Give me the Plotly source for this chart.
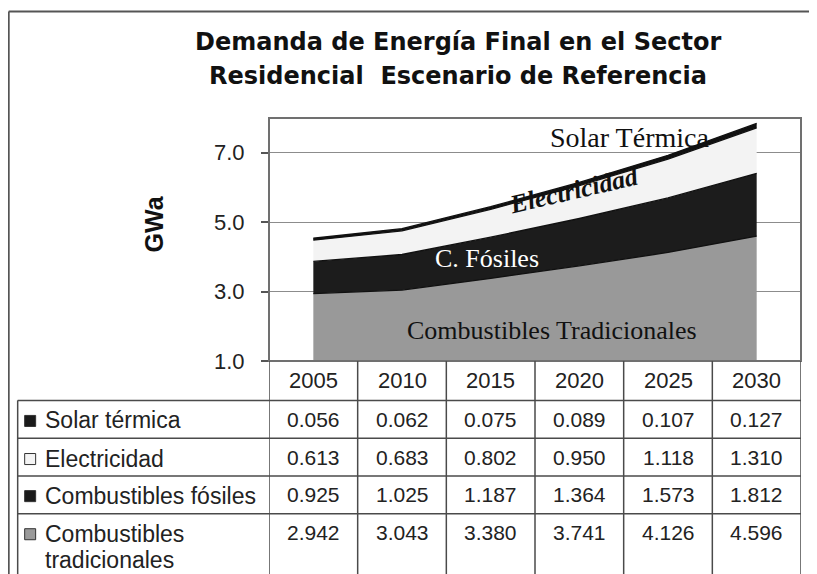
import plotly.graph_objects as go

# ---------------- data ----------------
years = ["2005", "2010", "2015", "2020", "2025", "2030"]
tradicionales = [2.942, 3.043, 3.380, 3.741, 4.126, 4.596]
fosiles = [0.925, 1.025, 1.187, 1.364, 1.573, 1.812]
electricidad = [0.613, 0.683, 0.802, 0.950, 1.118, 1.310]
solar = [0.056, 0.062, 0.075, 0.089, 0.107, 0.127]

row_labels = ["Solar térmica", "Electricidad", "Combustibles fósiles", "Combustibles\ntradicionales"]
row_values = [solar, electricidad, fosiles, tradicionales]
row_swatch = ["#1a1a1a", "#f4f4f4", "#1a1a1a", "#9a9a9a"]

series_names = ["Combustibles tradicionales", "Combustibles fósiles", "Electricidad", "Solar térmica"]
series_values = [tradicionales, fosiles, electricidad, solar]
series_fill = ["#999999", "#1c1c1c", "#f3f3f3", "#111111"]

title_lines = ["Demanda de Energía Final en el Sector", "Residencial  Escenario de Referencia"]
y_ticks = [1, 3, 5, 7]

# ---------------- geometry helpers (screen pixels; page body has an 8px margin) ----------------
OFF = 8
W, H = 817 - OFF, 574 - OFF
PLOT_L, PLOT_R, PLOT_T, PLOT_B = 268.7, 801.5, 118.3, 360.7   # screen px
L = PLOT_L - OFF
T = PLOT_T - OFF
R = W - (PLOT_R - OFF)
B = H - (PLOT_B - OFF)
pw = W - L - R
ph = H - T - B


def px(x):
    return (x - PLOT_L) / pw


def py(y):
    return (PLOT_B - y) / ph


SANS = "Liberation Sans, Arial, sans-serif"
TITLE_FONT = "DejaVu Sans, Liberation Sans, sans-serif"
SERIF = "Liberation Serif, Times New Roman, serif"

fig = go.Figure()
for name, vals, col in zip(series_names, series_values, series_fill):
    fig.add_trace(go.Scatter(
        x=years, y=vals, name=name, stackgroup="one", mode="lines",
        line=dict(color="#111111", width=1.3), fillcolor=col,
        showlegend=False, hoverinfo="x+y+name"))

shapes = []
line_col = "#4a4a4a"
# plot frame
shapes.append(dict(type="rect", xref="paper", yref="paper", x0=0, x1=1, y0=0, y1=1,
                   line=dict(color="#707070", width=2), layer="above"))
# outer chart border
shapes.append(dict(type="line", xref="paper", yref="paper", x0=px(8), x1=px(8), y0=py(12), y1=py(600),
                   line=dict(color="#555555", width=2)))
shapes.append(dict(type="line", xref="paper", yref="paper", x0=px(8), x1=px(830), y0=py(12), y1=py(12),
                   line=dict(color="#555555", width=2)))

# table geometry (screen pixels)
tab_left = 17
row_tops = [400, 437.7, 475.4, 513.1]
tab_bottom = 600

for yv in row_tops:
    shapes.append(dict(type="line", xref="paper", yref="paper", x0=px(tab_left), x1=1,
                       y0=py(yv), y1=py(yv), line=dict(color=line_col, width=1.5)))
shapes.append(dict(type="line", xref="paper", yref="paper", x0=px(tab_left), x1=px(tab_left),
                   y0=py(row_tops[0]), y1=py(tab_bottom), line=dict(color=line_col, width=1.5)))
for i in range(len(years) + 1):
    shapes.append(dict(type="line", xref="x", yref="paper", x0=i - 0.5, x1=i - 0.5,
                       y0=0, y1=py(tab_bottom), line=dict(color=line_col, width=1.5)))

annotations = []
# title
for k, t in enumerate(title_lines):
    annotations.append(dict(text="<b>%s</b>" % t, xref="paper", yref="paper", x=px(458), y=py(42 + 34 * k),
                            showarrow=False, font=dict(family=TITLE_FONT, size=24, color="#111111"),
                            xanchor="center", yanchor="middle"))
# y title
annotations.append(dict(text="<b>GWa</b>", xref="paper", yref="paper", x=px(153), y=py(224),
                        showarrow=False, textangle=-90, font=dict(family=SANS, size=25, color="#111111"),
                        xanchor="center", yanchor="middle"))
# header years
for i, yr in enumerate(years):
    annotations.append(dict(text=yr, xref="x", yref="paper", x=i, y=py(380), showarrow=False,
                            font=dict(family=SANS, size=22, color="#222222"),
                            xanchor="center", yanchor="middle"))
# rows
row_centers = [419, 457, 494, 532]
for r, (lab, vals, sw) in enumerate(zip(row_labels, row_values, row_swatch)):
    cy = row_centers[r]
    for k, ln in enumerate(lab.split("\n")):
        annotations.append(dict(text=ln, xref="paper", yref="paper", x=px(42), y=py(cy + 1 + 26 * k),
                                showarrow=False, font=dict(family=SANS, size=23, color="#222222"),
                                xanchor="left", yanchor="middle"))
    shapes.append(dict(type="rect", xref="paper", yref="paper", x0=px(24), x1=px(35),
                       y0=py(cy - 4), y1=py(cy + 7), fillcolor=sw,
                       line=dict(color="#333333", width=1)))
    for i, v in enumerate(vals):
        annotations.append(dict(text="%.3f" % v, xref="x", yref="paper", x=i, y=py(cy),
                                showarrow=False, font=dict(family=SANS, size=21, color="#222222"),
                                xanchor="center", yanchor="middle"))

# in-chart series labels
annotations.append(dict(text="Solar Térmica", xref="paper", yref="paper", x=px(630), y=py(138),
                        showarrow=False, font=dict(family=SERIF, size=28, color="#111111"),
                        xanchor="center", yanchor="middle"))
annotations.append(dict(text="<b><i>Electricidad</i></b>", xref="paper", yref="paper", x=px(574), y=py(191),
                        showarrow=False, textangle=-13,
                        font=dict(family=SERIF, size=26, color="#111111"),
                        xanchor="center", yanchor="middle"))
annotations.append(dict(text="C. Fósiles", xref="paper", yref="paper", x=px(487), y=py(258),
                        showarrow=False, font=dict(family=SERIF, size=26, color="#ffffff"),
                        xanchor="center", yanchor="middle"))
annotations.append(dict(text="Combustibles Tradicionales", xref="paper", yref="paper", x=px(552), y=py(330),
                        showarrow=False, font=dict(family=SERIF, size=26, color="#111111"),
                        xanchor="center", yanchor="middle"))

fig.update_layout(
    width=W, height=H,
    margin=dict(l=L, r=R, t=T, b=B, pad=0),
    paper_bgcolor="white", plot_bgcolor="white",
    shapes=shapes, annotations=annotations,
    xaxis=dict(type="category", range=[-0.5, len(years) - 0.5], showticklabels=False,
               showgrid=False, zeroline=False, ticks=""),
    yaxis=dict(range=[1, 8], tickvals=y_ticks, tickformat=".1f", ticks="outside", ticklen=7,
               tickcolor="#555555", tickwidth=1.5, showgrid=True, gridcolor="#8c8c8c", gridwidth=1,
               zeroline=False, ticklabelstandoff=12,
               tickfont=dict(family=SANS, size=22, color="#222222")),
)

fig.write_html("out.html")
